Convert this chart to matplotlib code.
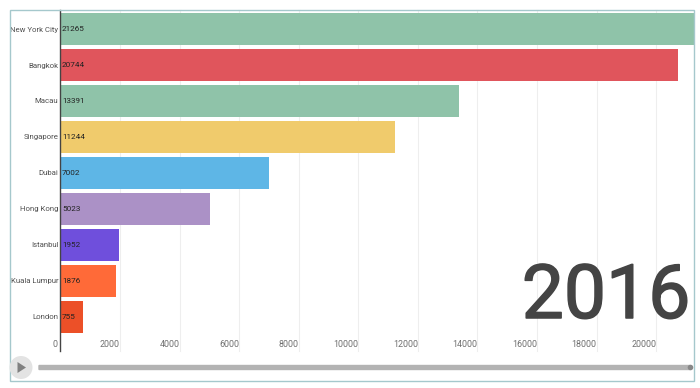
import matplotlib
matplotlib.use("Agg")
import matplotlib.pyplot as plt
import matplotlib.patheffects as pe
from matplotlib.patches import Rectangle, Circle, Polygon, FancyBboxPatch
from matplotlib.transforms import ScaledTranslation

plt.rcParams['font.family'] = ['Roboto', 'DejaVu Sans']

cities = ["New York City", "Bangkok", "Macau", "Singapore", "Dubai",
          "Hong Kong", "Istanbul", "Kuala Lumpur", "London"]
values = [21265, 20744, 13391, 11244, 7002, 5023, 1952, 1876, 755]
colors = ["#8fc3a9", "#e0555c", "#8fc3a9", "#f0cb6c", "#5eb6e6",
          "#ab91c6", "#6f4fdc", "#ff6a38", "#ec5028"]
x_ticks = [0, 2000, 4000, 6000, 8000, 10000, 12000, 14000, 16000, 18000, 20000]
year = "2016"

W, H = 700, 388


def main():
    fig = plt.figure(figsize=(7, 3.88), dpi=100, facecolor="white")
    ax = fig.add_axes([60.4 / W, 1 - 348 / H, 633.1 / W, 338 / H])
    ax.barh(range(len(cities)), values, height=0.89, color=colors, zorder=2)
    ax.set_xlim(0, 21256)
    ax.set_ylim(8.87, -0.53)

    for v in x_ticks[1:]:
        ax.plot([v, v], [-0.53, 8.95], color="#eeeeee", lw=0.8, zorder=1, clip_on=False)

    ax.set_yticks(range(len(cities)))
    ax.set_yticklabels(cities, fontsize=5.6, color="#505050")
    ax.tick_params(axis="y", length=0, pad=1.5)
    ax.set_xticks(x_ticks)
    ax.set_xticklabels([str(v) for v in x_ticks], fontsize=6.4, color="#707070")
    ax.tick_params(axis="x", length=0, pad=-6)
    # labels sit left of the gridline, like the original player
    for lab in ax.get_xticklabels():
        lab.set_horizontalalignment("right")
    zero = ax.get_xticklabels()[0]
    zero.set_transform(zero.get_transform() + ScaledTranslation(-3 / 100, 0, fig.dpi_scale_trans))

    for i, v in enumerate(values):
        ax.text(55, i, str(v), fontsize=5.9, color="#222222", va="center", zorder=3)

    for s in ["top", "right", "bottom"]:
        ax.spines[s].set_visible(False)
    ax.spines["left"].set_bounds(-0.53, 8.95)
    ax.spines["left"].set_color("#444444")
    ax.spines["left"].set_linewidth(1.0)
    ax.spines["left"].set_zorder(4)

    fig.text(690.5 / W, 1 - 318 / H, year, fontsize=54, color="#444444",
             ha="right", va="baseline", zorder=5,
             path_effects=[pe.withStroke(linewidth=1.1, foreground="#444444")])

    # outer frame and player controls, in pixel coordinates of the figure
    tr = fig.transFigure
    fig.add_artist(Rectangle((9.5 / W, 1 - 381 / H), 684 / W, 371.5 / H, fill=False,
                             ec="#a5c8cc", lw=1.0, transform=tr))
    fig.add_artist(FancyBboxPatch((39 / W, 1 - 369.5 / H), 651 / W, 4 / H,
                                  boxstyle="round,pad=0.0", fc="#b3b3b3", ec="#b3b3b3",
                                  lw=1.0, transform=tr))
    fig.add_artist(Circle((690.5, 388 - 367.5), 2.8, fc="#888888", ec="none",
                          transform=None))
    fig.add_artist(Circle((21, 388 - 367.5), 11.5, fc="#e3e3e3", ec="none",
                          transform=None))
    fig.add_artist(Polygon([(17.5, 388 - 362), (17.5, 388 - 373), (26, 388 - 367.5)],
                           closed=True, fc="#808080", ec="none", transform=None))

    fig.savefig("out.png", dpi=100)


if __name__ == "__main__":
    main()
